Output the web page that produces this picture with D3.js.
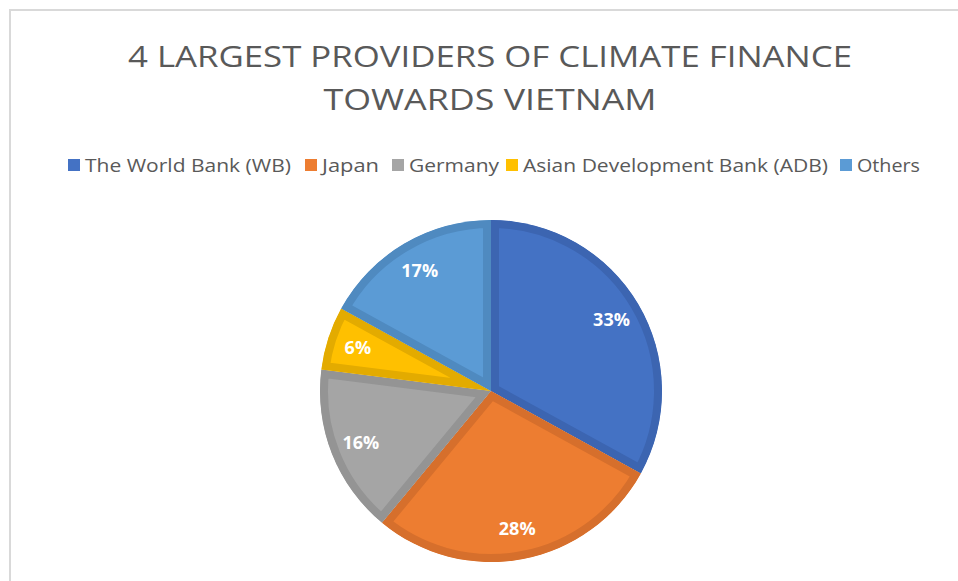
<!DOCTYPE html>
<html>
<head>
<meta charset="utf-8">
<script src="https://cdn.jsdelivr.net/npm/d3@7"></script>
<style>
  body { margin: 0; background: #fff; }
  text { font-family: "Open Sans", "Noto Sans", sans-serif; }
</style>
</head>
<body>
<div id="chart"></div>
<script>
// data
var categories = ["The World Bank (WB)", "Japan", "Germany", "Asian Development Bank (ADB)", "Others"];
var shares = [33, 28, 16, 6, 17];
var colors = ["#4472C4", "#ED7D31", "#A5A5A5", "#FFC000", "#5B9BD5"];
var borders = ["#3C65B1", "#D66F2C", "#949494", "#E3AB00", "#4F8AC0"];
var titleLines = ["4 LARGEST PROVIDERS OF CLIMATE FINANCE", "TOWARDS VIETNAM"];

var width = 958, height = 581;

var svg = d3.select("#chart").append("svg")
    .attr("width", width)
    .attr("height", height);

// chart frame
svg.append("path")
    .attr("d", "M10," + height + "V10H" + width)
    .attr("fill", "none")
    .attr("stroke", "#d9d9d9")
    .attr("stroke-width", 2);

// title
svg.selectAll(".title")
    .data(titleLines)
    .enter().append("text")
    .attr("class", "title")
    .attr("x", 490)
    .attr("y", function (d, i) { return 67 + i * 43; })
    .attr("text-anchor", "middle")
    .attr("fill", "#595959")
    .style("font-size", "29px")
    .attr("textLength", function (d, i) { return i == 0 ? 724 : 333; })
    .attr("lengthAdjust", "spacingAndGlyphs")
    .text(function (d) { return d; });

// legend (square x, text width)
var legendX = [68, 305, 392, 506, 840];
var legendW = [206, 57, 90, 305, 63];
var legend = svg.selectAll(".legend")
    .data(categories)
    .enter().append("g")
    .attr("class", "legend")
    .attr("transform", function (d, i) { return "translate(" + legendX[i] + ",165)"; });

legend.append("rect")
    .attr("x", 0).attr("y", -6)
    .attr("width", 12).attr("height", 12)
    .attr("fill", function (d, i) { return colors[i]; });

legend.append("text")
    .attr("x", 17)
    .attr("y", 6.5)
    .attr("fill", "#595959")
    .style("font-size", "18px")
    .attr("textLength", function (d, i) { return legendW[i]; })
    .attr("lengthAdjust", "spacingAndGlyphs")
    .text(function (d) { return d; });

// pie
var cx = 491, cy = 391, r = 171;
var pie = d3.pie().sort(null).value(function (d) { return d; });
var arcs = pie(shares);
var arc = d3.arc().innerRadius(0).outerRadius(r);
var labelArc = d3.arc().innerRadius(140).outerRadius(140);

var g = svg.append("g").attr("transform", "translate(" + cx + "," + cy + ")");
var defs = svg.append("defs");

// clip each slice so its border sits inside it
defs.selectAll("clipPath")
    .data(arcs)
    .enter().append("clipPath")
    .attr("id", function (d, i) { return "slice" + i; })
    .append("path")
    .attr("d", arc);

g.selectAll(".slice")
    .data(arcs)
    .enter().append("path")
    .attr("class", "slice")
    .attr("d", arc)
    .attr("fill", function (d, i) { return colors[i]; })
    .attr("stroke", function (d, i) { return borders[i]; })
    .attr("stroke-width", 16)
    .attr("stroke-linejoin", "miter")
    .attr("clip-path", function (d, i) { return "url(#slice" + i + ")"; });

g.selectAll(".label")
    .data(arcs)
    .enter().append("text")
    .attr("class", "label")
    .attr("transform", function (d) { return "translate(" + labelArc.centroid(d) + ")"; })
    .attr("text-anchor", "middle")
    .attr("dy", "0.35em")
    .attr("fill", "#fff")
    .style("font-size", "18px")
    .style("font-weight", "bold")
    .text(function (d) { return d.data + "%"; });
</script>
</body>
</html>
